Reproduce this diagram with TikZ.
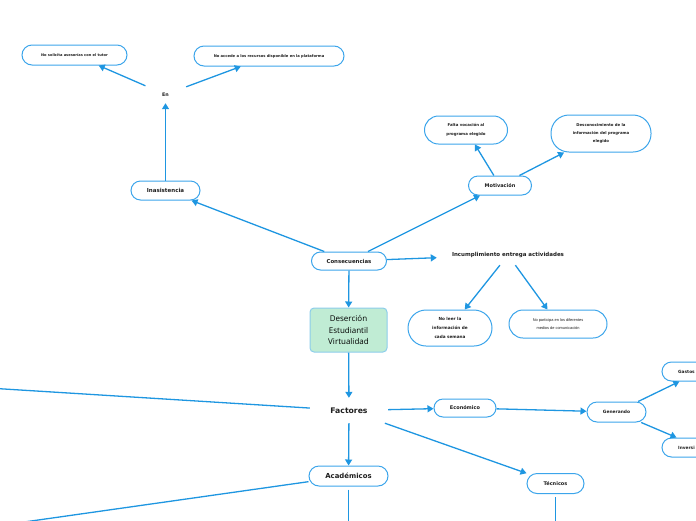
\documentclass[tikz,border=0pt]{standalone}
\usepackage{fontspec}
\setmainfont{DejaVu Sans}
\newfontfamily\osans{Open Sans}
\newfontfamily\lsans{Liberation Sans}
\usetikzlibrary{arrows.meta}
\definecolor{lineblue}{RGB}{30,150,225}
\definecolor{boxblue}{RGB}{60,165,235}
\definecolor{gfill}{RGB}{192,236,212}
\definecolor{gborder}{RGB}{140,205,235}
\definecolor{txt}{RGB}{30,30,30}
\newcommand\myfs[2]{\fontsize{#1}{#2}\selectfont}
\begin{document}
\begin{tikzpicture}[x=1pt,y=-1pt,
  box/.style={draw=boxblue, line width=1pt, fill=white, rounded corners=#1, inner sep=0pt, align=center, text=txt},
  box/.default=9pt,
  lbl/.style={inner sep=0pt, text=txt, align=center},
  conn/.style={draw=lineblue, line width=1.3pt, -{Triangle[length=6pt,width=7pt]}},
  plainc/.style={draw=lineblue, line width=1.3pt}]
\useasboundingbox (0,0) rectangle (696,520);
\clip (0,0) rectangle (696,520);

% top branch
\node[box=10pt, minimum width=105pt, minimum height=20pt, font=\bfseries\myfs{3.6}{4}] (sol) at (74.5,55) {No solicita asesorías con el tutor};
\node[box=10pt, minimum width=150pt, minimum height=20pt, font=\bfseries\myfs{3.7}{4}] (acc) at (269,56) {No accede a los recursos disponible en la plataforma};
\node[lbl, minimum width=41pt, minimum height=17pt, font=\bfseries\myfs{4.8}{5}] (en) at (165.5,94.5) {En};
\node[box=9.5pt, minimum width=69pt, minimum height=19pt, font=\bfseries\myfs{5.5}{6}] (ina) at (165.5,190.5) {Inasistencia};

\node[box=9pt, minimum width=75pt, minimum height=18pt, font=\bfseries\myfs{5.4}{6}] (con) at (349,261) {Consecuencias};

\node[box=9.5pt, minimum width=63pt, minimum height=19pt, font=\bfseries\myfs{5}{6}] (mot) at (500,185.5) {Motivación};
\node[box=14pt, minimum width=83pt, minimum height=28pt, font=\bfseries\myfs{3.9}{8.7}] (fal) at (466,130) {Falta vocación al\\programa elegido};
\node[box=18pt, minimum width=100pt, minimum height=37pt, font=\bfseries\myfs{3.85}{8}] (dsc) at (601,133.5) {Desconocimiento de la\\información del programa\\elegido};

\node[lbl, minimum width=142pt, minimum height=20pt, font=\bfseries\myfs{5.5}{6}] (inc) at (508,255) {Incumplimiento entrega actividades};
\node[box=18pt, minimum width=84pt, minimum height=36pt, font=\bfseries\myfs{4.2}{8.8}] (lee) at (450,328) {No leer la\\información de\\cada semana};
\node[box=14pt, minimum width=98pt, minimum height=28pt, font=\lsans\myfs{3.9}{8.7}] (par) at (558,324) {No participa en los diferentes\\medios de comunicación};

\node[draw=gborder, fill=gfill, rounded corners=4pt, line width=1pt, minimum width=77pt, minimum height=44pt, inner sep=0pt, align=center, text=black, font=\osans\myfs{8}{11.5}] (des) at (348.5,330) {Deserción\\Estudiantil\\Virtualidad};

% bottom branch
\node[lbl, minimum width=78pt, minimum height=25pt, font=\bfseries\myfs{7.7}{8}] (fac) at (349,410.5) {Factores};
\node[box=9pt, minimum width=62pt, minimum height=18pt, font=\bfseries\myfs{5}{6}] (eco) at (465,408) {Económico};
\node[box=10pt, minimum width=59pt, minimum height=20pt, font=\bfseries\myfs{4.4}{5}] (gen) at (616.5,412) {Generando};
\node[box=9.5pt, minimum width=76pt, minimum height=19pt] (gas) at (700,371.5) {};
\node[lbl, anchor=west, font=\bfseries\myfs{4.3}{5}] (gast) at (678,371.5) {Gastos};
\node[box=9.5pt, minimum width=76pt, minimum height=19pt] (inv) at (700,447.5) {};
\node[lbl, anchor=west, font=\bfseries\myfs{4.3}{5}] (invt) at (678,447.5) {Inversi};
\node[box=10pt, minimum width=79pt, minimum height=20pt, font=\bfseries\myfs{6.9}{7}] (aca) at (348.5,476) {Académicos};
\node[box=10pt, minimum width=57pt, minimum height=20pt, font=\bfseries\myfs{5}{6}] (tec) at (555.5,483.5) {Técnicos};

\coordinate (offL) at (-60,385);
\coordinate (offA) at (-100,539.6);
\coordinate (offAD) at (348.5,560);
\coordinate (offTD) at (555.5,560);

% connectors
\draw[conn] (con) -- (ina);
\draw[conn] (con) -- (mot);
\draw[conn] (con) -- (inc);
\draw[conn] (con) -- (des);
\draw[conn] (ina) -- (en);
\draw[conn] (en) -- (sol);
\draw[conn] (en) -- (acc);
\draw[conn] (mot) -- (fal);
\draw[conn] (mot) -- (dsc);
\draw[conn] (inc) -- (lee);
\draw[conn] (inc) -- (par);
\draw[conn] (des) -- (fac);
\draw[conn] (fac) -- (offL);
\draw[conn] (fac) -- (eco);
\draw[conn] (fac) -- (tec);
\draw[conn] (fac) -- (aca);
\draw[conn] (eco) -- (gen);
\draw[conn] (gen) -- (gas);
\draw[conn] (gen) -- (inv);
\draw[conn] (aca) -- (offA);
\draw[conn, shorten <=3pt] (aca) -- (offAD);
\draw[conn, shorten <=3pt] (tec) -- (offTD);
\end{tikzpicture}
\end{document}
